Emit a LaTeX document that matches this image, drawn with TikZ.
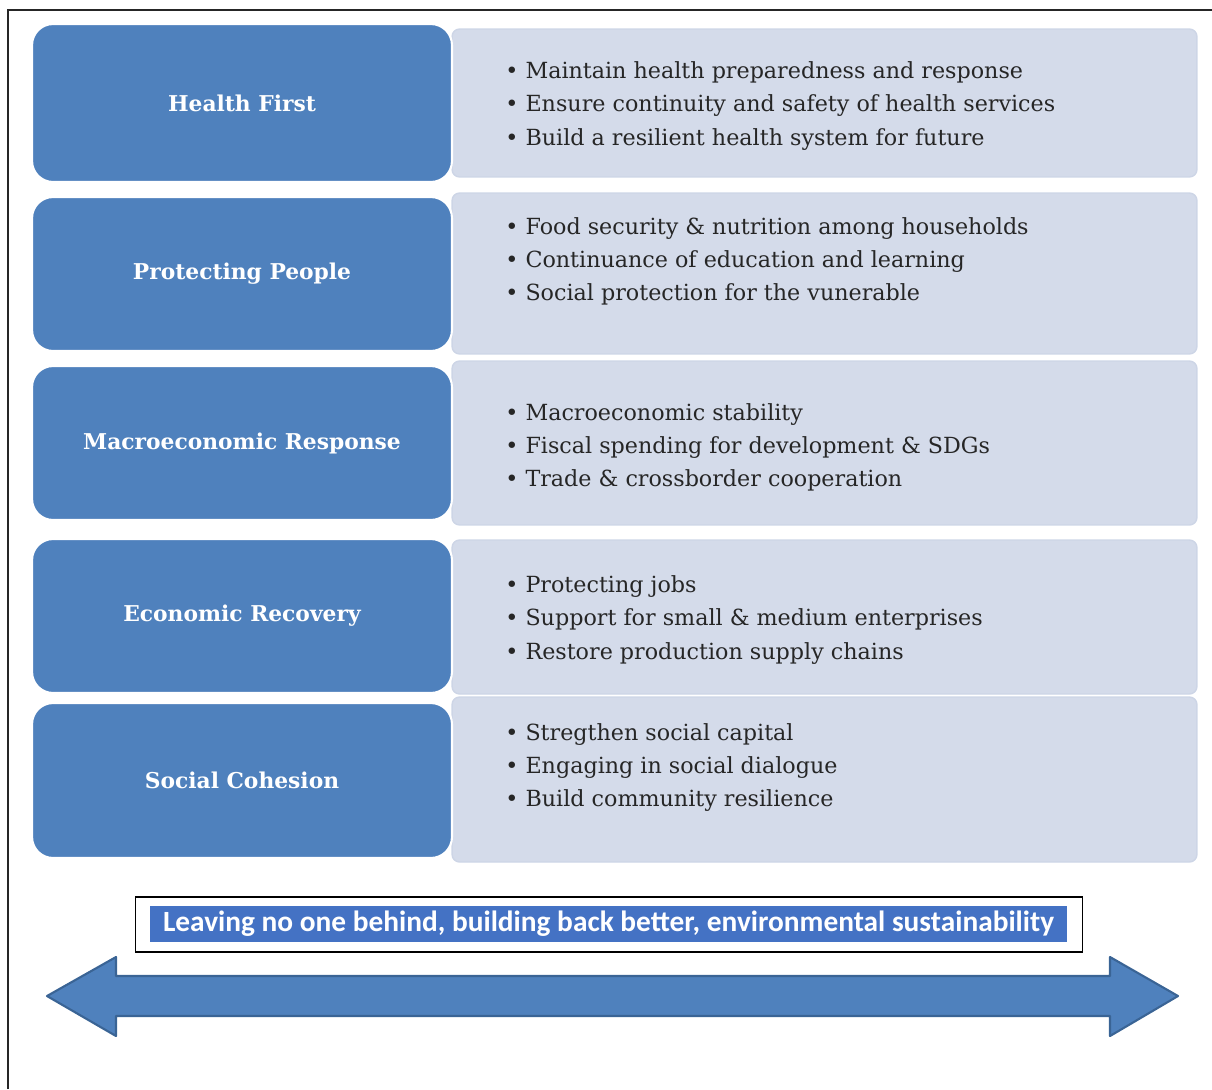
\documentclass[tikz,border=0pt]{standalone}
\usepackage{fontspec}
\setmainfont{DejaVu Serif}
\newfontfamily\bannerfont{Carlito}
\usepackage{xcolor}
\usepackage{tikz}
\usetikzlibrary{positioning}

\definecolor{hdblue}{HTML}{4F81BD}
\definecolor{itemgrey}{HTML}{D4DBEA}
\definecolor{itemedge}{HTML}{CDD5E6}
\definecolor{bnblue}{HTML}{4472C4}
\definecolor{arrowedge}{HTML}{3A6495}

\begin{document}
\begin{tikzpicture}[
      x=0.02cm, y=-0.02cm,
      hdbox/.style={rectangle, rounded corners=0.42cm, fill=hdblue, draw=white,
          line width=1.2pt, text=white, text centered, minimum width=8.4cm,
          font=\fontsize{12.4}{15}\selectfont\bfseries},
      itembox/.style={rectangle, rounded corners=0.15cm, fill=itemgrey,
          draw=itemedge, line width=0.8pt, minimum width=14.9cm},
      itemtxt/.style={anchor=west, align=left, inner sep=0pt, text=black!85,
          font=\fontsize{12.65}{18.8}\selectfont},
      bnframe/.style={rectangle, draw=black, line width=0.6pt, fill=white,
          minimum width=18.96cm, minimum height=1.1cm},
      bnlabel/.style={rectangle, fill=bnblue, text=white, minimum width=18.34cm,
          minimum height=0.72cm, inner sep=0pt,
          font=\bannerfont\fontsize{16.7}{18}\selectfont\bfseries},
      bigarrow/.style={fill=hdblue, draw=arrowedge, line width=1.2pt, line join=round}
    ]
    \useasboundingbox (0,0) rectangle (1212,1089);
    % outer frame (top and left only)
    \draw[line width=1.2pt, black!85] (8,1089) -- (8,10) -- (1212,10);

    % item panels
    \node[itembox, minimum height=2.96cm] (hfitems) at (824.5,103) {};
    \node[itembox, minimum height=3.22cm] (ppitems) at (824.5,273.5) {};
    \node[itembox, minimum height=3.28cm] (meitems) at (824.5,443) {};
    \node[itembox, minimum height=3.08cm] (eritems) at (824.5,617) {};
    \node[itembox, minimum height=3.30cm] (scitems) at (824.5,779.5) {};

    % pillar headings
    \node[hdbox, minimum height=3.16cm] (hf) at (242,103) {Health First};
    \node[hdbox, minimum height=3.08cm] (pp) at (242,274) {Protecting People};
    \node[hdbox, minimum height=3.08cm] (me) at (242,443) {Macroeconomic Response};
    \node[hdbox, minimum height=3.08cm] (er) at (242,616) {Economic Recovery};
    \node[hdbox, minimum height=3.10cm] (sc) at (242,780.5) {Social Cohesion};

    % bullet lists
    \node[itemtxt] (hftxt) at (505,106) {\textbullet\ Maintain health preparedness and response\\
        \textbullet\ Ensure continuity and safety of health services\\
        \textbullet\ Build a resilient health system for future};
    \node[itemtxt] (pptxt) at (505,261) {\textbullet\ Food security \& nutrition among households\\
        \textbullet\ Continuance of education and learning\\
        \textbullet\ Social protection for the vunerable};
    \node[itemtxt] (metxt) at (505,447) {\textbullet\ Macroeconomic stability\\
        \textbullet\ Fiscal spending for development \& SDGs\\
        \textbullet\ Trade \& crossborder cooperation};
    \node[itemtxt] (ertxt) at (505,620) {\textbullet\ Protecting jobs\\
        \textbullet\ Support for small \& medium enterprises\\
        \textbullet\ Restore production supply chains};
    \node[itemtxt] (sctxt) at (505,767.5) {\textbullet\ Stregthen social capital\\
        \textbullet\ Engaging in social dialogue\\
        \textbullet\ Build community resilience};

    % banner
    \node[bnframe] (bnbox) at (609,924.5) {};
    \node[bnlabel] (bntext) at (608.5,924) {Leaving no one behind, building back better, environmental sustainability};

    % double arrow
    \draw[bigarrow] (47,996) -- (116,957) -- (116,976) -- (1110,976) -- (1110,957)
        -- (1178,996) -- (1110,1036) -- (1110,1016) -- (116,1016) -- (116,1036) -- cycle;
  \end{tikzpicture}
\end{document}
